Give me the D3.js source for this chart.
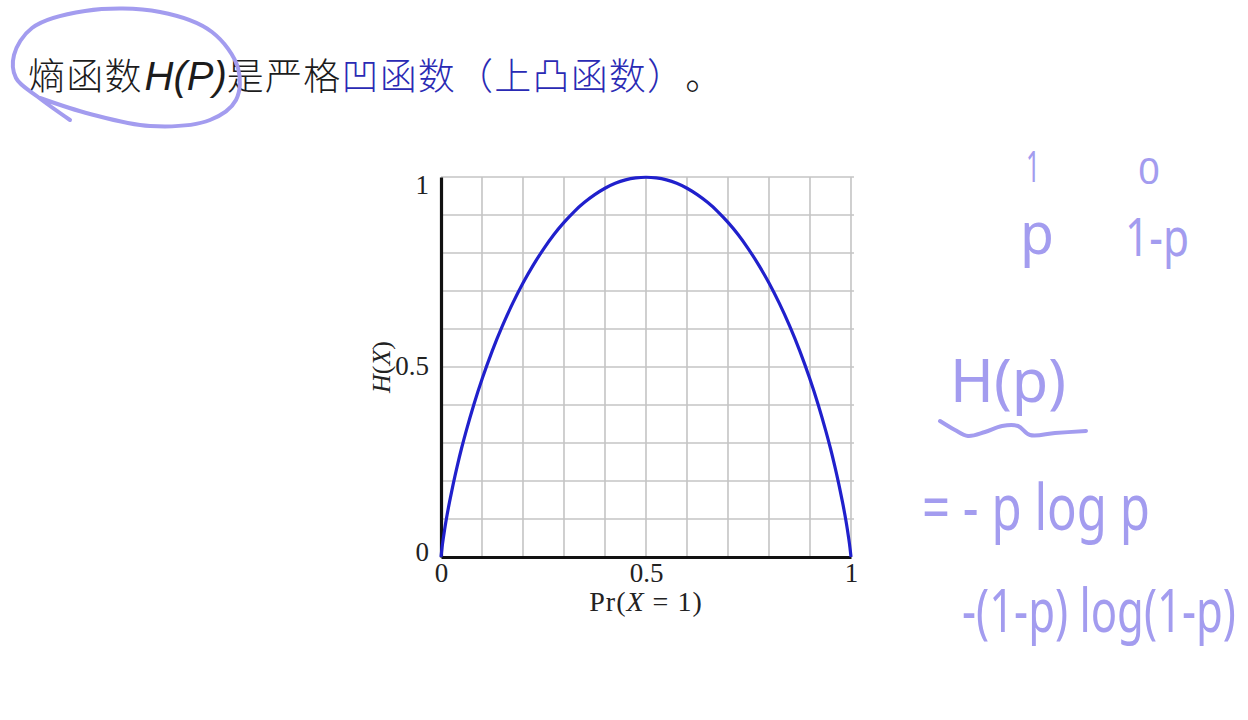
<!DOCTYPE html>
<html><head><meta charset="utf-8">
<script src="https://cdn.jsdelivr.net/npm/d3@7"></script>
<style>html,body{margin:0;padding:0;background:#fff;}svg{display:block;}text{text-spacing-trim:space-all;}</style>
</head><body>
<svg id="c" width="1248" height="720"></svg>
<script>
// ---- data ----
const pValues = [0, 0.0025, 0.005, 0.01, 0.015, 0.02, 0.03, 0.04, 0.05, 0.06, 0.08, 0.1, 0.125, 0.15, 0.175,
                 0.2, 0.225, 0.25, 0.275, 0.3, 0.325, 0.35, 0.375, 0.4, 0.425, 0.45, 0.475, 0.5,
                 0.525, 0.55, 0.575, 0.6, 0.625, 0.65, 0.675, 0.7, 0.725, 0.75, 0.775, 0.8,
                 0.825, 0.85, 0.875, 0.9, 0.92, 0.94, 0.95, 0.96, 0.97, 0.98, 0.985, 0.99, 0.995, 0.9975, 1];
const hValues = [0, 0.025, 0.045, 0.081, 0.112, 0.141, 0.194, 0.242, 0.286, 0.327, 0.402, 0.469, 0.544, 0.61, 0.669,
                 0.722, 0.769, 0.811, 0.849, 0.881, 0.91, 0.934, 0.954, 0.971, 0.984, 0.993, 0.998, 1.0,
                 0.998, 0.993, 0.984, 0.971, 0.954, 0.934, 0.91, 0.881, 0.849, 0.811, 0.769, 0.722,
                 0.669, 0.61, 0.544, 0.469, 0.402, 0.327, 0.286, 0.242, 0.194, 0.141, 0.112, 0.081, 0.045, 0.025, 0];
const gridValues = [0, 0.1, 0.2, 0.3, 0.4, 0.5, 0.6, 0.7, 0.8, 0.9, 1];
const xTickValues = [0, 0.5, 1];
const xTickLabels = ["0", "0.5", "1"];
const yTickValues = [0, 0.5, 1];
const yTickLabels = ["0", "0.5", "1"];
const titleParts = [
  {text: "熵函数", kind: "cjk", color: "#1c1c1c"},
  {text: "H(P)", kind: "latin", color: "#1c1c1c"},
  {text: "是严格", kind: "cjk", color: "#1c1c1c"},
  {text: "凹函数（上凸函数）", kind: "cjk", color: "#2a2ab4"},
  {text: "。", kind: "cjk", color: "#1c1c1c"}
];
const noteTexts = ["1", "0", "p", "1-p", "H(p)", "= - p log p", "-(1-p) log(1-p)"];

// ---- chart ----
const svg = d3.select("#c");
const x = d3.scaleLinear().domain([0, 1]).range([441, 851]);
const y = d3.scaleLinear().domain([0, 1]).range([557, 177]);
const serif = "'Liberation Serif','DejaVu Serif',serif";

// grid
const grid = svg.append("g").attr("stroke", "#c4c4c4").attr("stroke-width", 1.6);
grid.selectAll("line.v").data(gridValues.slice(1)).join("line").attr("class", "v")
  .attr("x1", d => x(d)).attr("x2", d => x(d)).attr("y1", y(1)).attr("y2", y(0));
grid.selectAll("line.h").data(gridValues.slice(1)).join("line").attr("class", "h")
  .attr("x1", x(0)).attr("x2", x(1) + 3).attr("y1", d => y(d)).attr("y2", d => y(d));

// axes
const xAxis = d3.axisBottom(x).tickValues(xTickValues).tickFormat((d, i) => xTickLabels[i])
  .tickSize(0).tickPadding(6);
const gx = svg.append("g").attr("transform", `translate(0,${y(0)})`).call(xAxis);
gx.select(".domain").attr("stroke", "#111").attr("stroke-width", 3.2);
gx.selectAll("text").attr("font-family", serif).attr("font-size", 27).attr("fill", "#222");

const yAxis = d3.axisLeft(y).tickValues(yTickValues).tickFormat((d, i) => yTickLabels[i])
  .tickSize(0).tickPadding(12);
const gy = svg.append("g").attr("transform", `translate(${x(0)},0)`).call(yAxis);
gy.select(".domain").attr("stroke", "#111").attr("stroke-width", 3.2);
gy.selectAll("text").attr("font-family", serif).attr("font-size", 27).attr("fill", "#222")
  .attr("dy", d => d === 1 ? "0.62em" : d === 0 ? "0.14em" : "0.27em");

// axis labels
svg.append("text").attr("x", x(0.5)).attr("y", 611).attr("text-anchor", "middle")
  .attr("font-family", serif).attr("font-size", 28).attr("letter-spacing", 1).attr("fill", "#222")
  .html('Pr(<tspan font-style="italic">X</tspan> = 1)');
svg.append("text").attr("transform", `translate(390,${y(0.5)}) rotate(-90)`).attr("text-anchor", "middle")
  .attr("font-family", serif).attr("font-size", 26).attr("fill", "#222")
  .html('<tspan font-style="italic">H</tspan>(<tspan font-style="italic">X</tspan>)');

// curve
const pts = pValues.map((p, i) => [p, hValues[i]]);
svg.append("path").datum(pts)
  .attr("d", d3.line().x(d => x(d[0])).y(d => y(d[1])).curve(d3.curveBasis))
  .attr("fill", "none").attr("stroke", "#2020cc").attr("stroke-width", 3.2);

// ---- title ----
const title = svg.append("text").attr("x", 28).attr("y", 90);
titleParts.forEach(t => {
  const ts = title.append("tspan").text(t.text).attr("fill", t.color);
  if (t.kind === "cjk") ts.attr("font-family", "'Noto Sans CJK SC',sans-serif").attr("font-size", 37)
    .attr("font-weight", 300).attr("letter-spacing", 1.2);
  else ts.attr("font-family", "'Liberation Sans',Arial,sans-serif").attr("font-size", 40).attr("font-style", "italic").attr("dx", 2);
});

// ---- hand-drawn annotations ----
const pen = "#a39cef";
const hand = d3.line().curve(d3.curveCatmullRom.alpha(0.5));
svg.append("path")
  .attr("d", hand([[70,120],[38,97],[16,78],[14,55],[32,28],[85,11],[160,12],[212,32],[238,68],[236,100],[210,120],[150,126],[90,114],[40,98]]))
  .attr("fill", "none").attr("stroke", pen).attr("stroke-width", 4).attr("stroke-linecap", "round");
svg.append("path")
  .attr("d", hand([[940,421],[955,430],[968,436],[985,432],[1002,426],[1018,426],[1030,435],[1055,433],[1086,431]]))
  .attr("fill", "none").attr("stroke", pen).attr("stroke-width", 4).attr("stroke-linecap", "round");

const noteFont = "'Noto Sans','DejaVu Sans',sans-serif";
const notes = [
  {t: noteTexts[0], x: 1026, y: 182, s: 44, w: 14},
  {t: noteTexts[1], x: 1138, y: 184, s: 36, w: 22},
  {t: noteTexts[2], x: 1020, y: 254, s: 58, w: 34},
  {t: noteTexts[3], x: 1125, y: 256, s: 52, w: 64},
  {t: noteTexts[4], x: 950, y: 402, s: 60, w: 116},
  {t: noteTexts[5], x: 922, y: 530, s: 64, w: 228},
  {t: noteTexts[6], x: 962, y: 632, s: 60, w: 274}
];
const ng = svg.selectAll("g.note").data(notes).join("g").attr("class", "note");
ng.append("text").attr("x", 0).attr("y", 0).attr("font-family", noteFont)
  .attr("font-size", d => d.s).attr("fill", pen).text(d => d.t);
ng.each(function(d) {
  const t = d3.select(this).select("text");
  const natural = t.node().getComputedTextLength();
  const sx = natural > 0 ? d.w / natural : 1;
  d3.select(this).attr("transform", `translate(${d.x},${d.y}) scale(${sx},1)`);
});
</script>
</body></html>
